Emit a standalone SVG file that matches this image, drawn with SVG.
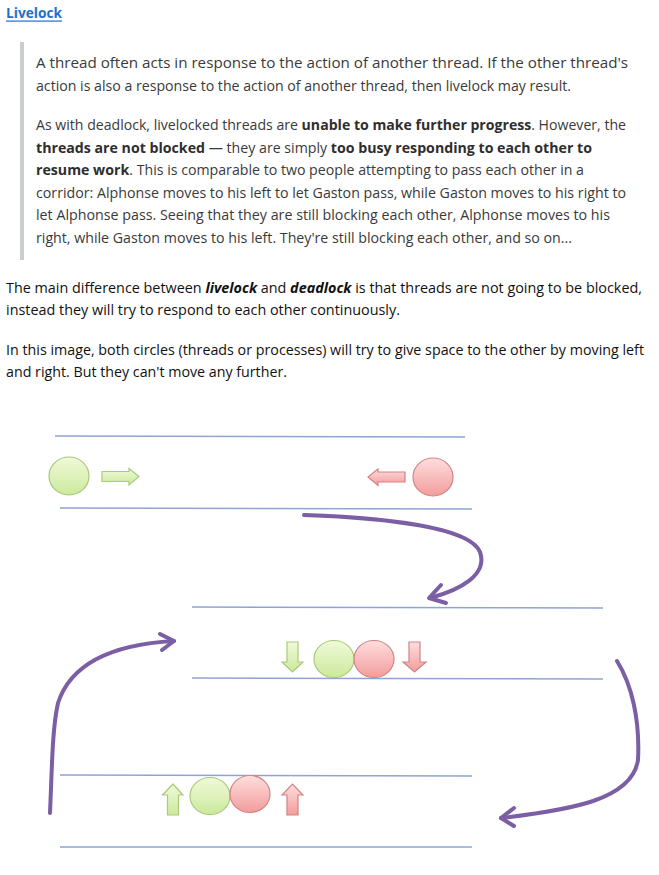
<svg xmlns="http://www.w3.org/2000/svg" width="659" height="875" viewBox="0 0 659 875">
<defs>
<linearGradient id="gG" x1="0" y1="0" x2="0" y2="1">
<stop offset="0" stop-color="#f1fad9"/>
<stop offset="1" stop-color="#cbe99c"/>
</linearGradient>
<linearGradient id="gR" x1="0" y1="0" x2="0" y2="1">
<stop offset="0" stop-color="#ffdede"/>
<stop offset="1" stop-color="#f39c9c"/>
</linearGradient>
</defs>
<style>
.t{font-family:"Open Sans","Noto Sans","Liberation Sans",sans-serif;font-size:14.5px;fill:#3a3a3a}
.b{font-weight:bold;fill:#2e2e2e}
.u{font-family:"Open Sans","Noto Sans","Liberation Sans",sans-serif;font-size:14.5px;fill:#111}
.lane{stroke:#8fa4d2;stroke-width:1.5;fill:none}
.gr{fill:url(#gG);stroke:#a9c97b;stroke-width:1.2}
.rd{fill:url(#gR);stroke:#d18484;stroke-width:1.2}
.cv{fill:none;stroke:#7b5ea3;stroke-width:4;stroke-linecap:round;stroke-linejoin:round}
</style>
<rect width="659" height="875" fill="#ffffff"/>

<g id="title">
<text x="6" y="17.5" font-family="'Open Sans','Noto Sans','Liberation Sans',sans-serif" font-size="14.5" font-weight="bold" fill="#1f6fcf" textLength="56" lengthAdjust="spacingAndGlyphs">Livelock</text>
<rect x="6" y="20.5" width="56" height="1.2" fill="#1f6fcf"/>
</g>

<g id="quote">
<rect x="20" y="42" width="4" height="218" fill="#c9ccd0"/>
<text class="t" x="36" y="68" textLength="592" lengthAdjust="spacingAndGlyphs">A thread often acts in response to the action of another thread. If the other thread's</text>
<text class="t" x="36" y="90.5" textLength="535" lengthAdjust="spacingAndGlyphs">action is also a response to the action of another thread, then livelock may result.</text>
<text class="t" x="36" y="130" textLength="590" lengthAdjust="spacingAndGlyphs">As with deadlock, livelocked threads are <tspan class="b">unable to make further progress</tspan>. However, the</text>
<text class="t" x="36" y="152.5" textLength="556" lengthAdjust="spacingAndGlyphs"><tspan class="b">threads are not blocked</tspan> — they are simply <tspan class="b">too busy responding to each other to</tspan></text>
<text class="t" x="36" y="175" textLength="548" lengthAdjust="spacingAndGlyphs"><tspan class="b">resume work</tspan>. This is comparable to two people attempting to pass each other in a</text>
<text class="t" x="36" y="197.5" textLength="590" lengthAdjust="spacingAndGlyphs">corridor: Alphonse moves to his left to let Gaston pass, while Gaston moves to his right to</text>
<text class="t" x="36" y="220" textLength="574" lengthAdjust="spacingAndGlyphs">let Alphonse pass. Seeing that they are still blocking each other, Alphonse moves to his</text>
<text class="t" x="36" y="242.5" textLength="536" lengthAdjust="spacingAndGlyphs">right, while Gaston moves to his left. They're still blocking each other, and so on...</text>
</g>

<g id="body">
<text class="u" x="6" y="293" textLength="636" lengthAdjust="spacingAndGlyphs">The main difference between <tspan font-weight="bold" font-style="italic">livelock</tspan> and <tspan font-weight="bold" font-style="italic">deadlock</tspan> is that threads are not going to be blocked,</text>
<text class="u" x="6" y="315" textLength="394" lengthAdjust="spacingAndGlyphs">instead they will try to respond to each other continuously.</text>
<text class="u" x="6" y="355" textLength="638" lengthAdjust="spacingAndGlyphs">In this image, both circles (threads or processes) will try to give space to the other by moving left</text>
<text class="u" x="6" y="377" textLength="281" lengthAdjust="spacingAndGlyphs">and right. But they can't move any further.</text>
</g>

<g id="lanes">
<line class="lane" x1="55" y1="436" x2="465" y2="437"/>
<line class="lane" x1="60" y1="508" x2="472" y2="509"/>
<line class="lane" x1="192" y1="607" x2="603" y2="608"/>
<line class="lane" x1="192" y1="678" x2="603" y2="679"/>
<line class="lane" x1="60" y1="775" x2="472" y2="776"/>
<line class="lane" x1="60" y1="847" x2="472" y2="847"/>
</g>

<g id="state-top">
<ellipse class="gr" cx="69" cy="476" rx="20" ry="19"/>
<path class="gr" d="M102,471.5 H129 V468.5 L139,476.5 L129,485 V481.5 H102 Z"/>
<path class="rd" d="M405,472 H378 V469 L368,477 L378,485.5 V482 H405 Z"/>
<ellipse class="rd" cx="433" cy="477" rx="20" ry="19"/>
</g>

<g id="state-middle">
<path class="gr" d="M287,642 H298 V662 H303 L292.5,672 L282,662 H287 Z"/>
<ellipse class="gr" cx="334" cy="659" rx="20" ry="18.5"/>
<ellipse class="rd" cx="374" cy="659" rx="20" ry="18.5"/>
<path class="rd" d="M409,642 H420 V662 H426 L414.5,672 L403,662 H409 Z"/>
</g>

<g id="state-bottom">
<path class="gr" d="M167.5,815 H178.5 V795 H183 L173,784 L162.5,795 H167.5 Z"/>
<ellipse class="gr" cx="210" cy="796" rx="20" ry="18.5"/>
<ellipse class="rd" cx="250" cy="794" rx="20" ry="18.5"/>
<path class="rd" d="M287,815 H298 V795 H303 L292.5,784 L282,795 H287 Z"/>
</g>

<g id="connectors">
<path class="cv" d="M304,515 C 390,518 470,528 480,552 C 488,575 460,590 430,598"/>
<path class="cv" d="M441,585 L429,598 L446,603"/>
<path class="cv" d="M617,661 C 632,685 640,720 638,760 C 632,800 570,810 501,818"/>
<path class="cv" d="M514,808 L501,818 L514,826"/>
<path class="cv" d="M50,813 C 52,770 52,730 58,703 C 72,660 120,644 174,641"/>
<path class="cv" d="M160,634 L174,641 L162,650"/>
</g>
</svg>
